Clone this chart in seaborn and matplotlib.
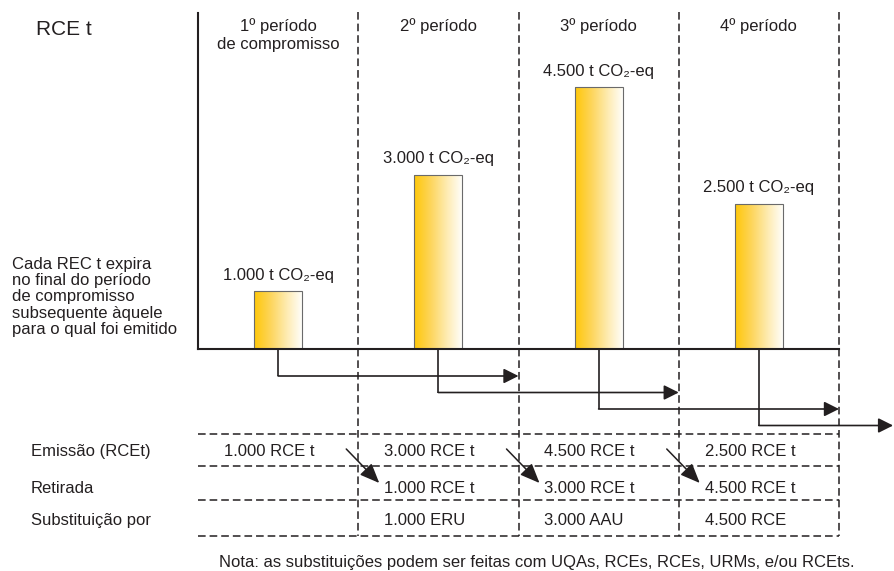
import numpy as np
import pandas as pd
import matplotlib
matplotlib.use("Agg")
import matplotlib.pyplot as plt
from matplotlib.colors import LinearSegmentedColormap
from matplotlib.transforms import blended_transform_factory
import seaborn as sns

# --- data -------------------------------------------------------------
periodos = ["1º período\nde compromisso", "2º período", "3º período", "4º período"]
emissao_t = [1000, 3000, 4500, 2500]          # RCEt emitidas em cada período (t CO2-eq)
retirada_t = [None, 1000, 3000, 4500]         # RCEt retiradas (expiradas) em cada período
substituicao_t = [None, 1000, 3000, 4500]     # quantidade substituída
substituicao_tipo = [None, "ERU", "AAU", "RCE"]
linhas_tabela = ["Emissão (RCEt)", "Retirada", "Substituição por"]
texto_expira = ["Cada REC t expira", "no final do período", "de compromisso",
                "subsequente àquele", "para o qual foi emitido"]
titulo_eixo = "RCE t"
nota = "Nota: as substituições podem ser feitas com UQAs, RCEs, RCEs, URMs, e/ou RCEts."


def fmt(v):
    return f"{v:,.0f}".replace(",", ".")


# --- style ------------------------------------------------------------
sns.set_style("white")
plt.rcParams["font.family"] = ["Liberation Sans", "DejaVu Sans"]

INK = "#231f20"
FS = 12
W, H = 894, 571
fig = plt.figure(figsize=(W / 100, H / 100), dpi=100)


def fy(px):
    """figure fraction for a pixel row measured from the top"""
    return 1 - px / H


# plot area: left axis at 198 px, baseline at 349 px, top at 13 px
ax = fig.add_axes([198 / W, fy(349), (839 - 198) / W, (349 - 13) / H])

df = pd.DataFrame({"periodo": periodos, "emissao": emissao_t})
sns.barplot(data=df, x="periodo", y="emissao", width=0.3, ax=ax,
            color="white", edgecolor="#6a6a6a", linewidth=0.8, saturation=1)

# yellow-to-white horizontal gradient inside every bar
grad_cmap = LinearSegmentedColormap.from_list(
    "amarelo", ["#FFC708", "#FDD55A", "#FEEBB0", "#FFFFFF"])
grad = np.linspace(0, 1, 256).reshape(1, -1)
for bar in ax.patches:
    x0, w, h = bar.get_x(), bar.get_width(), bar.get_height()
    im = ax.imshow(grad, extent=[x0, x0 + w, 0, h], aspect="auto",
                   cmap=grad_cmap, zorder=1.5, interpolation="bilinear")
    im.set_clip_path(bar)
    bar.set_facecolor("none")
    bar.set_zorder(2)

ax.set_xlim(-0.5, len(periodos) - 0.5)
ax.set_ylim(0, 5780)
ax.set_aspect("auto")
ax.set_xticks([])
ax.set_yticks([])
ax.set_xlabel("")
ax.set_ylabel("")
for s in ["top", "right"]:
    ax.spines[s].set_visible(False)
for s in ["left", "bottom"]:
    ax.spines[s].set_color(INK)
    ax.spines[s].set_linewidth(1.5)

ax.bar_label(ax.containers[0],
             labels=[f"{fmt(v)} t CO₂-eq" for v in emissao_t],
             padding=6, fontsize=FS, color=INK)

trans = blended_transform_factory(ax.transData, fig.transFigure)
px_per_unit = (839 - 198) / len(periodos)
dash = (0, (5, 2.6))
n = len(periodos)
fronteiras = np.arange(n) + 0.5

# dashed period separators running down through the table
for xb in fronteiras:
    ax.plot([xb, xb], [fy(12), fy(536)], transform=trans, ls=dash,
            lw=1.1, color=INK, clip_on=False)

# table row rules
for ypx in [434, 466, 500, 536]:
    ax.plot([-0.5, n - 0.5], [fy(ypx), fy(ypx)], transform=trans, ls=dash,
            lw=1.1, color=INK, clip_on=False)

# period headers
for i, p in enumerate(periodos):
    for k, linha in enumerate(p.split("\n")):
        ax.text(i, fy(31 + 18 * k), linha, transform=trans, ha="center",
                va="baseline", fontsize=FS, color=INK)

# expiry arrows: from each bar down, then right to the end of the next period
x_borda = ax.transData.inverted().transform(fig.transFigure.transform((0.999, 0)))[0]
for i, bar in enumerate(ax.patches):
    xc = bar.get_x() + bar.get_width() / 2
    ypx = 376 + 16.5 * i
    xfim = min(xc + 1.5, x_borda)
    ax.plot([xc, xc], [fy(349), fy(ypx)], transform=trans, lw=1.2,
            color=INK, clip_on=False, solid_capstyle="butt")
    ax.annotate("", xy=(xfim, fy(ypx)), xytext=(xc, fy(ypx)),
                xycoords=trans, textcoords=trans, annotation_clip=False,
                arrowprops=dict(arrowstyle="-|>,head_length=0.9,head_width=0.45",
                                mutation_scale=10, color=INK, lw=1.2,
                                shrinkA=0, shrinkB=0))

# table rows
base_linhas = [456, 493, 525]
for lab, yb in zip(linhas_tabela, base_linhas):
    fig.text(31 / W, fy(yb), lab, ha="left", va="baseline", fontsize=FS, color=INK)

x_txt = 26 / px_per_unit
for i in range(n):
    xl = i - 0.5 + x_txt
    ax.text(xl, fy(base_linhas[0]), f"{fmt(emissao_t[i])} RCE t", transform=trans,
            ha="left", va="baseline", fontsize=FS, color=INK)
    if retirada_t[i] is not None:
        ax.text(xl, fy(base_linhas[1]), f"{fmt(retirada_t[i])} RCE t", transform=trans,
                ha="left", va="baseline", fontsize=FS, color=INK)
    if substituicao_t[i] is not None:
        ax.text(xl, fy(base_linhas[2]), f"{fmt(substituicao_t[i])} {substituicao_tipo[i]}",
                transform=trans, ha="left", va="baseline", fontsize=FS, color=INK)

# diagonal arrows: issued units become retired units in the next period
for xb in fronteiras[:-1]:
    ax.annotate("", xy=(xb + 21 / px_per_unit, fy(483)),
                xytext=(xb - 12 / px_per_unit, fy(449)),
                xycoords=trans, textcoords=trans, annotation_clip=False,
                arrowprops=dict(arrowstyle="-|>,head_length=1.2,head_width=0.5",
                                mutation_scale=10, color=INK, lw=1.1,
                                shrinkA=0, shrinkB=0))

# side texts
fig.text(36 / W, fy(35), titulo_eixo, ha="left", va="baseline", fontsize=15, color=INK)
for k, linha in enumerate(texto_expira):
    fig.text(12 / W, fy(269 + 16.25 * k), linha, ha="left", va="baseline",
             fontsize=FS, color=INK)

fig.text(537 / W, fy(567), nota, ha="center", va="baseline", fontsize=FS, color=INK)

fig.savefig("out.png", dpi=100, facecolor="white")
